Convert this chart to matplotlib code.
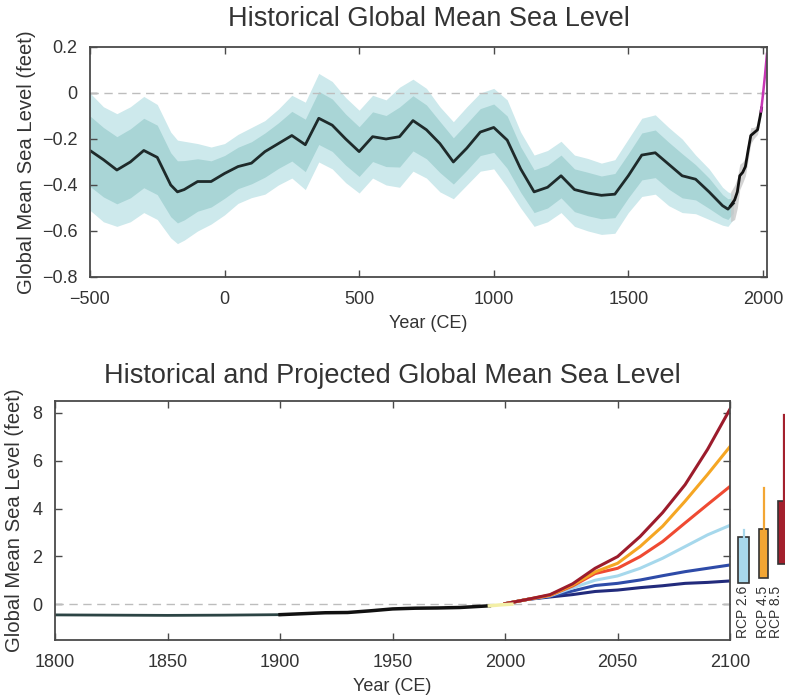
"""Historical and projected global mean sea level (two panels)."""

import numpy as np
import matplotlib
matplotlib.use("Agg")
import matplotlib.pyplot as plt
from matplotlib.patches import Rectangle

plt.rcParams["font.family"] = ["Liberation Sans", "DejaVu Sans"]

# ---- top panel: reconstruction (feet) ----
rec_years = [-500, -450, -400, -350, -300, -250, -200, -175, -150, -100, -50, 0, 50, 100,
             150, 200, 250, 300, 350, 400, 450, 500, 550, 600, 650, 700, 750, 800, 850,
             900, 950, 1000, 1050, 1100, 1150, 1200, 1250, 1300, 1350, 1400, 1450, 1500,
             1550, 1600, 1650, 1700, 1750, 1800, 1850, 1870, 1890]
rec_mean = [-0.25, -0.29, -0.335, -0.30, -0.25, -0.28, -0.40, -0.43, -0.42, -0.385, -0.385,
            -0.35, -0.32, -0.305, -0.255, -0.22, -0.185, -0.225, -0.11, -0.14, -0.20, -0.255,
            -0.19, -0.20, -0.19, -0.12, -0.16, -0.22, -0.30, -0.24, -0.17, -0.15, -0.205,
            -0.33, -0.43, -0.41, -0.36, -0.42, -0.435, -0.445, -0.44, -0.36, -0.27, -0.26,
            -0.31, -0.36, -0.375, -0.43, -0.49, -0.505, -0.48]
outer_hi = [0.0, -0.06, -0.09, -0.06, -0.015, -0.05, -0.17, -0.205, -0.21, -0.22, -0.235,
            -0.22, -0.18, -0.15, -0.12, -0.07, -0.01, -0.04, 0.085, 0.05, -0.02, -0.075,
            -0.01, -0.03, 0.025, 0.06, 0.02, -0.06, -0.125, -0.06, 0.0, 0.02, -0.03, -0.17,
            -0.27, -0.25, -0.21, -0.27, -0.285, -0.305, -0.29, -0.2, -0.11, -0.095, -0.15,
            -0.2, -0.27, -0.33, -0.41, -0.43, -0.44]
outer_lo = [-0.51, -0.56, -0.58, -0.56, -0.52, -0.55, -0.63, -0.655, -0.64, -0.6, -0.57,
            -0.53, -0.48, -0.455, -0.44, -0.40, -0.37, -0.42, -0.30, -0.33, -0.39, -0.435,
            -0.37, -0.40, -0.41, -0.34, -0.37, -0.43, -0.46, -0.40, -0.34, -0.33, -0.41,
            -0.50, -0.58, -0.56, -0.52, -0.58, -0.60, -0.615, -0.61, -0.52, -0.45, -0.44,
            -0.49, -0.52, -0.525, -0.55, -0.575, -0.58, -0.55]
inner_hi = [-0.10, -0.15, -0.19, -0.156, -0.11, -0.14, -0.26, -0.295, -0.294, -0.286, -0.295,
            -0.272, -0.236, -0.212, -0.174, -0.13, -0.08, -0.114, 0.007, -0.026, -0.092,
            -0.147, -0.082, -0.098, -0.061, -0.012, -0.052, -0.124, -0.195, -0.132, -0.068,
            -0.048, -0.10, -0.234, -0.334, -0.314, -0.27, -0.33, -0.345, -0.361, -0.35,
            -0.264, -0.174, -0.161, -0.214, -0.264, -0.312, -0.37, -0.442, -0.46, -0.456]
inner_lo = [-0.406, -0.452, -0.482, -0.456, -0.412, -0.442, -0.538, -0.565, -0.552, -0.514,
            -0.496, -0.458, -0.416, -0.395, -0.366, -0.328, -0.296, -0.342, -0.224, -0.254,
            -0.314, -0.363, -0.298, -0.32, -0.322, -0.252, -0.286, -0.346, -0.396, -0.336,
            -0.272, -0.258, -0.328, -0.432, -0.52, -0.50, -0.456, -0.516, -0.534, -0.547,
            -0.542, -0.456, -0.378, -0.368, -0.418, -0.456, -0.465, -0.502, -0.541, -0.55,
            -0.522]

# tide gauge part with grey uncertainty
tg_years = [1880, 1895, 1905, 1914, 1925, 1935, 1945, 1955, 1965, 1980, 1990, 1995]
tg_mean = [-0.49, -0.465, -0.43, -0.36, -0.345, -0.32, -0.25, -0.185, -0.175, -0.16, -0.10, -0.065]
tg_lo = [-0.56, -0.55, -0.50, -0.42, -0.39, -0.36, -0.29, -0.22, -0.20, -0.18, -0.12, -0.08]
tg_hi = [-0.43, -0.40, -0.37, -0.31, -0.30, -0.28, -0.21, -0.15, -0.15, -0.14, -0.08, -0.05]

# satellite altimetry
sat_years = [1993, 2000, 2008, 2015]
sat_vals = [-0.08, -0.01, 0.08, 0.17]

top_yticks = [-0.8, -0.6, -0.4, -0.2, 0, 0.2]
top_yticklabels = ["\u22120.8", "\u22120.6", "\u22120.4", "\u22120.2", "0", "0.2"]
top_xticks = [-500, 0, 500, 1000, 1500, 2000]
top_xticklabels = ["\u2212500", "0", "500", "1000", "1500", "2000"]

# ---- bottom panel ----
hist_years = [1800, 1825, 1850, 1875, 1900, 1910, 1920, 1930, 1940, 1950, 1960, 1970, 1980, 1993]
hist_vals = [-0.45, -0.46, -0.47, -0.46, -0.44, -0.40, -0.36, -0.35, -0.28, -0.20, -0.17,
             -0.16, -0.14, -0.07]
obs_years = [1993, 1998, 2003]
obs_vals = [-0.07, -0.03, 0.0]

proj_years = [2000, 2010, 2020, 2030, 2040, 2050, 2060, 2070, 2080, 2090, 2100]
proj_darkred = [0.02, 0.2, 0.4, 0.85, 1.5, 1.99, 2.83, 3.83, 5.0, 6.48, 8.17]
proj_orange = [0.02, 0.2, 0.38, 0.8, 1.35, 1.71, 2.41, 3.26, 4.31, 5.43, 6.6]
proj_red = [0.02, 0.2, 0.37, 0.76, 1.28, 1.5, 1.99, 2.62, 3.4, 4.17, 4.93]
proj_ltblue = [0.02, 0.2, 0.35, 0.68, 1.0, 1.18, 1.5, 1.92, 2.41, 2.9, 3.3]
proj_blue = [0.02, 0.2, 0.33, 0.55, 0.78, 0.87, 1.01, 1.19, 1.36, 1.5, 1.64]
proj_navy = [0.02, 0.2, 0.3, 0.4, 0.53, 0.59, 0.69, 0.77, 0.87, 0.91, 0.97]

rcp_names = ["RCP 2.6", "RCP 4.5", "RCP 8.5"]
rcp_box_lo = [0.88, 1.1, 1.7]
rcp_box_hi = [2.82, 3.16, 4.3]
rcp_whisk_hi = [3.1, 4.84, 7.9]

bot_yticks = [0, 2, 4, 6, 8]
bot_xticks = [1800, 1850, 1900, 1950, 2000, 2050, 2100]

# ---- styling ----
C_OUT = "#cde9ec"
C_IN = "#a9d5d6"
C_LINE = "#1e2a2a"
C_SPINE = "#4a4a4a"
C_TXT = "#333333"
proj_colors = ["#9c1c2c", "#f5a623", "#ef4a32", "#a6d8ec", "#2e4ba8", "#222b7c"]
rcp_colors = ["#a8d8ec", "#f3a634", "#a3202d"]
rcp_x = [2103.6, 2112.9, 2121.3]
rcp_w = [4.8, 4.0, 5.5]
rcp_label_x = [2105.6, 2114.6, 2120.6]


def style_axes(ax):
    for s in ax.spines.values():
        s.set_color(C_SPINE)
        s.set_linewidth(1.3)
    ax.tick_params(direction="in", top=True, right=True, length=5, width=1,
                   color=C_SPINE, labelsize=13, labelcolor=C_TXT)
    ax.tick_params(axis="x", pad=10)
    ax.tick_params(axis="y", pad=9)


fig = plt.figure(figsize=(7.85, 6.98), dpi=100)

# top panel
ax1 = fig.add_axes([0.1146, 0.6032, 0.8624, 0.3295])
ax1.fill_between(rec_years, outer_lo, outer_hi, color=C_OUT, lw=0)
ax1.fill_between(rec_years, inner_lo, inner_hi, color=C_IN, lw=0)
ax1.fill_between(tg_years, tg_lo, tg_hi, color="#c9c9c9", lw=0, alpha=0.8)
ax1.axhline(0, color="#bdbdbd", lw=1, dashes=(6, 4))
ax1.plot(rec_years, rec_mean, color=C_LINE, lw=2)
ax1.plot(tg_years, tg_mean, color="#111111", lw=2)
ax1.plot(sat_years, sat_vals, color="#c737b5", lw=1.8)
ax1.set_xlim(-500, 2015)
ax1.set_ylim(-0.8, 0.2)
ax1.set_xticks(top_xticks)
ax1.set_xticklabels(top_xticklabels)
ax1.set_yticks(top_yticks)
ax1.set_yticklabels(top_yticklabels)
style_axes(ax1)
ax1.set_title("Historical Global Mean Sea Level", fontsize=19.5, color=C_TXT, pad=15)
ax1.set_xlabel("Year (CE)", fontsize=13, color=C_TXT, labelpad=5)
ax1.set_ylabel("Global Mean Sea Level (feet)", fontsize=14.6, color=C_TXT, labelpad=4)

# bottom panel
ax2 = fig.add_axes([0.0701, 0.0831, 0.86, 0.3424])
ax2.axhline(0, color="#bdbdbd", lw=1, dashes=(6, 4))
for vals, col in zip([proj_navy, proj_blue, proj_ltblue, proj_red, proj_orange, proj_darkred],
                     proj_colors[::-1]):
    ax2.plot(proj_years, vals, color=col, lw=2.2)
ax2.plot(hist_years[:5], hist_vals[:5], color="#2c4444", lw=2)
ax2.plot(hist_years[4:], hist_vals[4:], color="#111111", lw=2.5)
ax2.plot(obs_years, obs_vals, color="#f3efa6", lw=2.5)

for i, name in enumerate(rcp_names):
    x0 = rcp_x[i]
    xm = x0 + rcp_w[i] / 2
    ax2.plot([xm, xm], [rcp_box_hi[i], rcp_whisk_hi[i]], color=rcp_colors[i], lw=1.6,
             clip_on=False)
    ax2.add_patch(Rectangle((x0, rcp_box_lo[i]), rcp_w[i], rcp_box_hi[i] - rcp_box_lo[i],
                            facecolor=rcp_colors[i], edgecolor="#333333", lw=1.2,
                            clip_on=False))
    ax2.text(rcp_label_x[i], 0.75, name, rotation=90, ha="center", va="top",
             fontsize=10, color=C_TXT, clip_on=False)

ax2.set_xlim(1800, 2100)
ax2.set_ylim(-1.5, 8.5)
ax2.set_xticks(bot_xticks)
ax2.set_yticks(bot_yticks)
style_axes(ax2)
ax2.set_title("Historical and Projected Global Mean Sea Level", fontsize=19.5, color=C_TXT, pad=13)
ax2.set_xlabel("Year (CE)", fontsize=13, color=C_TXT, labelpad=5)
ax2.set_ylabel("Global Mean Sea Level (feet)", fontsize=14.6, color=C_TXT, labelpad=6)

fig.savefig("out.png", dpi=100)
